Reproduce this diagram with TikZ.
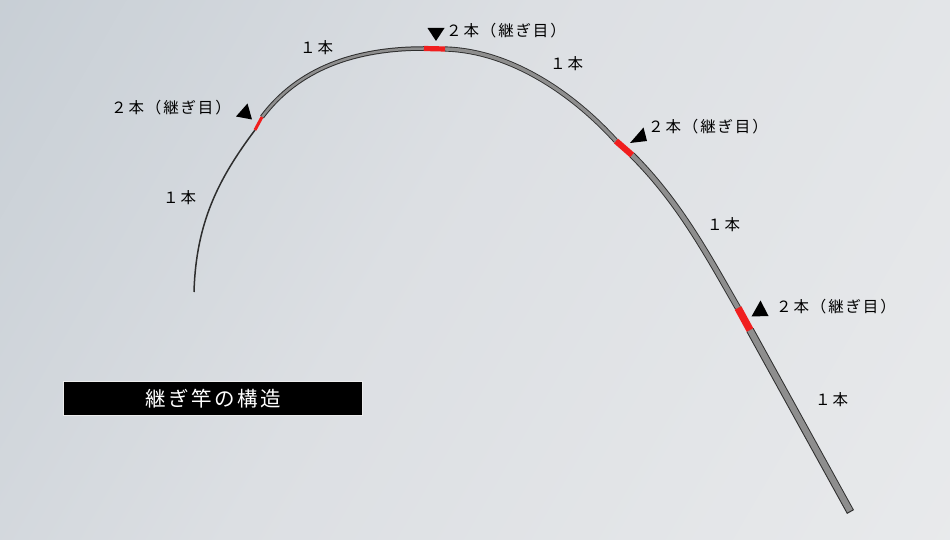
\documentclass[tikz,border=0pt]{standalone}
\usepackage{fontspec}
\newfontfamily\jp[LetterSpace=12]{Noto Sans CJK JP}
\definecolor{bgA}{HTML}{BDC6CE}
\definecolor{bgB}{HTML}{DCDFE3}
\definecolor{bgC}{HTML}{EDEEEF}
\definecolor{rodline}{HTML}{2E2E2E}
\definecolor{rodfill}{HTML}{8E8E8E}
\definecolor{joint}{HTML}{F01E1E}
\pgfdeclarehorizontalshading{bgshade}{100bp}{color(0bp)=(bgA); color(45bp)=(bgB); color(100bp)=(bgC)}
\tikzset{
  lbl/.style={inner sep=0pt, font=\jp\fontsize{15.5}{18}\selectfont, text=black},
  marker/.style={fill=black, draw=none},
  outer/.style={draw=rodline, line cap=butt},
  inner/.style={draw=rodfill, line cap=butt},
  jnt/.style={draw=joint, line cap=butt},
  titlebox/.style={fill=black, draw=white!85!gray, line width=0.7pt, minimum width=299.4pt, minimum height=34.7pt, inner sep=0pt, text=white, font=\jp\fontsize{20.5}{24}\selectfont}
}
\begin{document}
\begin{tikzpicture}[x=1pt,y=-1pt]
\useasboundingbox (0,0) rectangle (950,540);
\shade[shading=bgshade, shading angle=-30] (0,0) rectangle (950,540);
% rod key points
\coordinate (tip) at (194,292);
\coordinate (j1a) at (255,130);
\coordinate (j1b) at (262,117);
\coordinate (j2a) at (424,48.5);
\coordinate (j2b) at (445,49);
\coordinate (j3a) at (616,141);
\coordinate (j3b) at (632,155);
\coordinate (j4a) at (738,308);
\coordinate (j4b) at (750,330);
\coordinate (butt) at (850,511);
\coordinate (buttx) at (850.5,512);
% outlines
\draw[outer, line width=1.5pt] (tip) .. controls (196,222) and (219,178) .. (j1a);
\draw[outer, line width=4.5pt] (j1b) .. controls (298,69) and (354,48.5) .. (j2a);
\draw[outer, line width=5.2pt] (j2b) .. controls (515,51) and (578,99) .. (j3a);
\draw[outer, line width=6.5pt] (j3b) .. controls (679,202) and (707,254) .. (j4a);
\draw[outer, line width=8pt] (j4b) -- (buttx);
% fills
\draw[inner, line width=2.5pt] (j1b) .. controls (298,69) and (354,48.5) .. (j2a);
\draw[inner, line width=3.4pt] (j2b) .. controls (515,51) and (578,99) .. (j3a);
\draw[inner, line width=4.6pt] (j3b) .. controls (679,202) and (707,254) .. (j4a);
\draw[inner, line width=6pt] (j4b) -- (butt);
% joints
\draw[jnt, line width=3pt] (j1a) -- (j1b);
\draw[jnt, line width=5.2pt] (j2a) -- (j2b);
\draw[jnt, line width=6.2pt] (j3a) -- (j3b);
\draw[jnt, line width=7.5pt] (j4a) -- (j4b);
% markers
\fill[marker] (236,116.5) -- (247.5,103.5) -- (252,119.5) -- cycle;
\fill[marker] (427.5,28) -- (444.5,28) -- (436,41) -- cycle;
\fill[marker] (630,143) -- (643.5,127.5) -- (647,141) -- cycle;
\fill[marker] (751.5,316.5) -- (760.5,300.5) -- (768.5,316) -- cycle;
% labels
\node[lbl, anchor=west] (l1) at (111,108) {２本（継ぎ目）};
\node[lbl, anchor=west] (l2) at (446,31) {２本（継ぎ目）};
\node[lbl, anchor=west] (l3) at (648,127) {２本（継ぎ目）};
\node[lbl, anchor=west] (l4) at (776,306.5) {２本（継ぎ目）};
\node[lbl] (n1) at (179.6,198) {１本};
\node[lbl] (n2) at (316.6,48) {１本};
\node[lbl] (n3) at (566.6,64) {１本};
\node[lbl] (n4) at (723.6,224.5) {１本};
\node[lbl] (n5) at (831.6,400) {１本};
% title
\node[titlebox] (title) at (213,398.3) {継ぎ竿の構造};
\end{tikzpicture}
\end{document}
